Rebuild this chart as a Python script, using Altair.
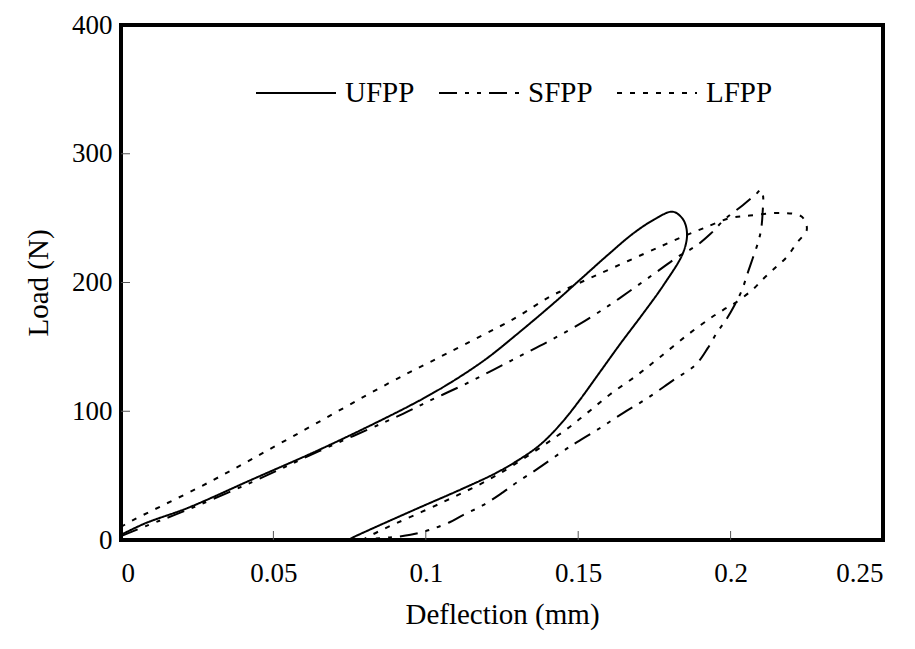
import altair as alt
import pandas as pd

# Load-deflection loops for the three specimen types
ufpp_x = [0, 0.008, 0.022, 0.043, 0.065, 0.087, 0.1, 0.11, 0.12, 0.13, 0.142, 0.151, 0.16,
          0.168, 0.175, 0.181, 0.1844, 0.1857, 0.1844, 0.178, 0.171, 0.164, 0.157, 0.1506,
          0.146, 0.1415, 0.137, 0.131, 0.123, 0.1122, 0.0958, 0.0761, 0.0745]
ufpp_y = [4, 13, 25, 47, 70, 95, 111, 125, 141, 160, 184, 203, 222,
          238, 249, 255, 249, 238, 223, 198, 175, 153, 130, 109,
          95, 83, 73, 63, 52, 40, 23, 2, 0]

sfpp_x = [0, 0.0105, 0.0203, 0.043, 0.065, 0.0925, 0.102, 0.112, 0.122, 0.131, 0.14,
          0.15, 0.16, 0.1667, 0.1768, 0.1827, 0.189, 0.1935, 0.198, 0.204, 0.2085, 0.2098,
          0.2106, 0.2105, 0.21, 0.209, 0.2073, 0.2057, 0.2037, 0.2012, 0.1985, 0.1955,
          0.1925, 0.1885, 0.1811, 0.1726, 0.1647, 0.1572, 0.1496, 0.145, 0.1365, 0.130,
          0.1253, 0.1188, 0.1122, 0.108, 0.1014, 0.095, 0.088, 0.082]
sfpp_y = [3, 13, 22, 45, 69, 98, 109, 120, 132, 143, 154,
          167, 182, 193, 210, 220, 229, 238, 249, 260, 269, 272,
          268, 254, 241, 231, 219, 208, 194, 182, 171, 161,
          149, 136, 124, 110, 98.6, 87, 76, 69, 55, 45,
          37, 27, 19.4, 14, 8, 4, 2, 1]

lfpp_x = [0, 0.002, 0.029, 0.056, 0.088, 0.107, 0.129, 0.1407, 0.147, 0.1857, 0.191,
          0.1998, 0.2063, 0.2172, 0.2234, 0.225, 0.2218, 0.2185, 0.2149, 0.211, 0.207,
          0.2014, 0.1975, 0.1932, 0.1857, 0.1768, 0.1693, 0.1604, 0.1529, 0.145,
          0.1234, 0.1057, 0.0866, 0.0823, 0.08]
lfpp_y = [10, 13, 45, 80, 122, 145, 172, 189, 196, 237, 242,
          250, 252, 254, 251, 241, 231, 220, 212, 203.5, 194,
          184, 178.6, 172, 159, 142, 128, 113, 98.6, 84,
          50.5, 29.5, 9, 4, 1]

series_names = ["UFPP", "SFPP", "LFPP"]
dash_styles = [[1, 0], [18, 8, 4, 8, 4, 8], [5, 8]]

x_ticks = [0, 0.05, 0.1, 0.15, 0.2, 0.25]
y_ticks = [0, 100, 200, 300, 400]
x_inner_ticks = [0.05, 0.1, 0.15, 0.2]
y_inner_ticks = [100, 200, 300]

rows = []
for name, xs, ys in zip(series_names, [ufpp_x, sfpp_x, lfpp_x], [ufpp_y, sfpp_y, lfpp_y]):
    for i, (xv, yv) in enumerate(zip(xs, ys)):
        rows.append({"series": name, "i": i, "deflection": xv, "load": yv})
df = pd.DataFrame(rows)

W, H = 762, 515
FONT = "Liberation Serif"

x_scale = alt.Scale(domain=[0, 0.25], nice=False, zero=False)
y_scale = alt.Scale(domain=[0, 400], nice=False)

lines = alt.Chart(df).mark_line(strokeWidth=2, color="black", interpolate="catmull-rom").encode(
    x=alt.X("deflection:Q", scale=x_scale,
            axis=alt.Axis(values=x_ticks, format="~g", title="Deflection (mm)",
                          domain=False, ticks=False, grid=False,
                          labelPadding=20, titlePadding=14, titleFontSize=29)),
    y=alt.Y("load:Q", scale=y_scale,
            axis=alt.Axis(values=y_ticks, format="d", title="Load (N)",
                          domain=False, ticks=False, grid=False,
                          labelPadding=9, titlePadding=18, titleFontSize=29)),
    strokeDash=alt.StrokeDash(
        "series:N",
        scale=alt.Scale(domain=series_names, range=dash_styles),
        legend=alt.Legend(title=None, orient="none", legendX=134, legendY=27,
                          direction="horizontal", symbolType="stroke",
                          symbolSize=6400, symbolStrokeWidth=2,
                          symbolStrokeColor="black", labelFont=FONT,
                          labelFontSize=29, labelColor="black", labelOffset=8,
                          columnPadding=20),
    ),
    order="i:Q",
)

# Short inward ticks along the bottom and left edges of the frame
xt = alt.Chart(pd.DataFrame({"t": x_inner_ticks})).mark_rule(color="#555", strokeWidth=1).encode(
    x=alt.X("t:Q", scale=x_scale),
    y=alt.value(H),
    y2=alt.value(H - 9),
)
yt = alt.Chart(pd.DataFrame({"t": y_inner_ticks})).mark_rule(color="#555", strokeWidth=1).encode(
    y=alt.Y("t:Q", scale=y_scale),
    x=alt.value(0),
    x2=alt.value(9),
)

chart = alt.layer(xt, yt, lines).properties(
    width=W, height=H,
    autosize=alt.AutoSizeParams(type="none"),
    padding={"left": 121, "top": 25, "right": 32, "bottom": 109},
    background="white",
).configure_view(
    stroke="black", strokeWidth=4
).configure_axis(
    labelFont=FONT, titleFont=FONT, labelFontSize=27,
    labelColor="black", titleColor="black", titleFontWeight="normal",
)

chart.save("out.html", embed_options={"renderer": "svg", "actions": False})
